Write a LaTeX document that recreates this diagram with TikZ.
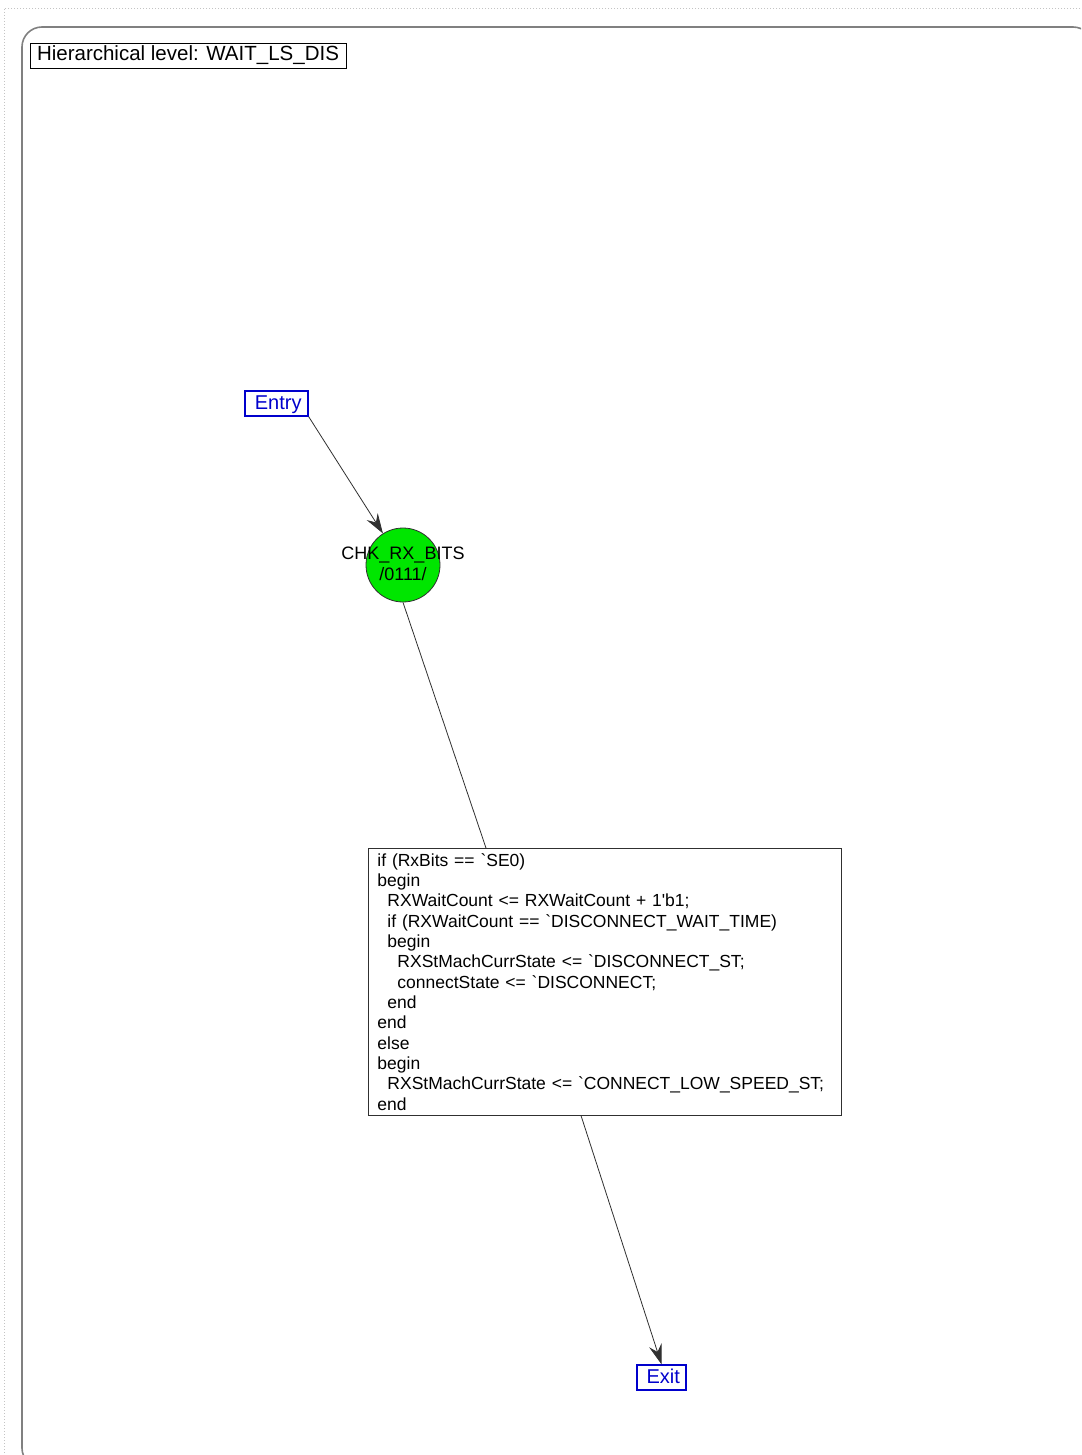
\documentclass[tikz,border=0pt]{standalone}
\usepackage{fontspec}
\setmainfont{Liberation Sans}
\usepackage{xcolor}
\usepackage{tikz}
\usetikzlibrary{arrows.meta,positioning,shapes.geometric}
\definecolor{fsmBlue}{HTML}{0000CC}
\definecolor{fsmGreen}{HTML}{00E600}
\definecolor{fsmFrame}{HTML}{808080}
\definecolor{fsmDots}{HTML}{C4C4C4}
\definecolor{fsmLine}{HTML}{303030}
\tikzset{
  titlebox/.style={rectangle, draw=black, line width=0.9pt, minimum width=316pt, minimum height=25pt, inner sep=0pt, font=\fontsize{20.5}{22}\selectfont},
  portbox/.style={rectangle, draw=fsmBlue, line width=1.4pt, text=fsmBlue, minimum height=25pt, inner sep=0pt, text height=14.5pt, text depth=3pt, font=\fontsize{20}{22}\selectfont},
  state/.style={circle, draw=fsmLine, fill=fsmGreen, line width=0.8pt, minimum size=74pt, inner sep=0pt},
  statetext/.style={align=center, inner sep=0pt, font=\fontsize{18}{20.5}\selectfont},
  codebox/.style={rectangle, draw=fsmLine, line width=0.9pt, align=left, text width=455pt, inner xsep=9pt, inner ysep=4.8pt, font=\fontsize{17.5}{20.33}\selectfont},
  trans/.style={draw=fsmLine, line width=0.8pt},
  transarrow/.style={-{Stealth[length=20pt, width=13pt, inset=7pt]}, draw=fsmLine, line width=0.8pt}
}
\newcommand{\ind}[1]{\hspace*{#1pt}}
\newcommand{\bq}{\textasciigrave}
\begin{document}
\begin{tikzpicture}[x=1pt, y=-1pt]
  \useasboundingbox (0,0) rectangle (1081,1455);
  \clip (0,0) rectangle (1081,1455);
  % page frame
  \draw[fsmDots, dotted, line width=1pt] (4,9) rectangle (1110,1490);
  \draw[fsmFrame, line width=1.6pt, rounded corners=20pt] (22,27) rectangle (1093,1468);

  \node[titlebox] (title) at (188,55.5) {Hierarchical level: WAIT\_LS\_DIS};

  \node[portbox, minimum width=63pt] (entry) at (276.5,403.5) {\,Entry};
  \node[state] (chk) at (403,565) {};
  \node[statetext] (chklabel) at (403,564) {CHK\_RX\_BITS\\/0111/};
  \node[codebox, anchor=north west] (code) at (368,848) {\hyphenpenalty=10000%
    if (RxBits == \bq SE0)\\
    begin\\
    \ind{10}RXWaitCount <= RXWaitCount + 1\textquotesingle b1;\\
    \ind{10}if (RXWaitCount == \bq DISCONNECT\_WAIT\_TIME)\\
    \ind{10}begin\\
    \ind{20}RXStMachCurrState <= \bq DISCONNECT\_ST;\\
    \ind{20}connectState <= \bq DISCONNECT;\\
    \ind{10}end\\
    end\\
    else\\
    begin\\
    \ind{10}RXStMachCurrState <= \bq CONNECT\_LOW\_SPEED\_ST;\\
    end};
  \node[portbox, minimum width=49pt] (exit) at (661.5,1377.5) {\,Exit};

  \draw[transarrow] (entry.south east) -- (chk);
  \draw[trans] (chk.south) -- ([xshift=118pt]code.north west);
  \draw[transarrow] ([xshift=213pt]code.south west) -- (exit.north);
\end{tikzpicture}
\end{document}
